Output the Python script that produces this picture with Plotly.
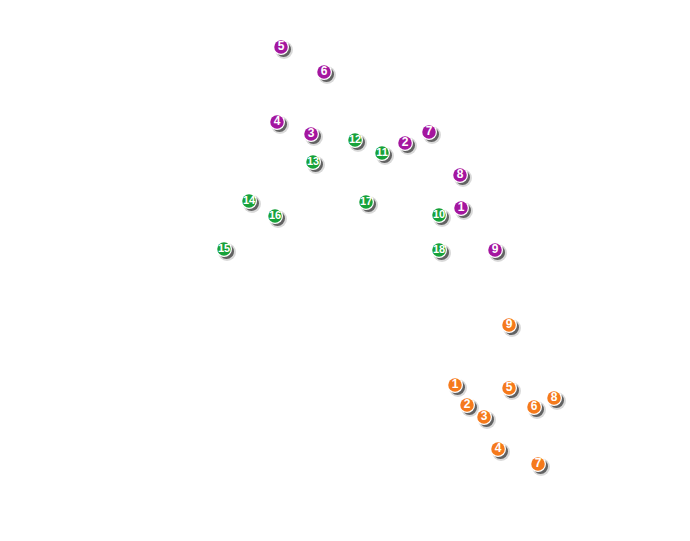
import plotly.graph_objects as go

# Point positions (pixel-like coordinates, y downward)
purple_labels = ["1", "2", "3", "4", "5", "6", "7", "8", "9"]
purple_x = [461, 405, 311, 277, 281, 324, 429, 460, 495]
purple_y = [208, 143, 134, 122, 47, 72, 132, 175, 250]

green_labels = ["10", "11", "12", "13", "14", "15", "16", "17", "18"]
green_x = [439, 382, 355, 313, 249, 224, 275, 366, 439]
green_y = [215, 153, 140, 162, 201, 249, 216, 202, 250]

orange_labels = ["1", "2", "3", "4", "5", "6", "7", "8", "9"]
orange_x = [455, 467, 484, 498, 509, 534, 538, 554, 509]
orange_y = [385, 405, 417, 449, 388, 407, 464, 398, 325]

series = [
    (purple_labels, purple_x, purple_y, "#a4169f"),
    (green_labels, green_x, green_y, "#17a23a"),
    (orange_labels, orange_x, orange_y, "#f57a1c"),
]

fig = go.Figure()
for labels, xs, ys, color in series:
    # soft shadow
    fig.add_trace(go.Scatter(x=[v + 3 for v in xs], y=[v + 3 for v in ys], mode="markers",
                             marker=dict(size=18, color="rgba(0,0,0,0.15)", line=dict(width=0)),
                             hoverinfo="skip", showlegend=False))
    fig.add_trace(go.Scatter(x=[v + 2.5 for v in xs], y=[v + 2.5 for v in ys], mode="markers",
                             marker=dict(size=15, color="rgba(0,0,0,0.55)", line=dict(width=0)),
                             hoverinfo="skip", showlegend=False))
    # white ring
    fig.add_trace(go.Scatter(x=xs, y=ys, mode="markers",
                             marker=dict(size=16, color="white", line=dict(width=0)),
                             hoverinfo="skip", showlegend=False))
    # coloured disc with number
    fig.add_trace(go.Scatter(x=xs, y=ys, mode="markers+text", text=labels,
                             textposition="middle center",
                             textfont=dict(color="white", size=[12 if len(t) == 1 else 11 for t in labels],
                                           family="Liberation Sans Narrow, Liberation Sans, Arial", weight="bold"),
                             marker=dict(size=13.5, color=color, line=dict(width=0)),
                             showlegend=False))

fig.update_layout(
    width=690, height=541,
    margin=dict(l=0, r=0, t=0, b=0),
    paper_bgcolor="white", plot_bgcolor="white",
    xaxis=dict(range=[8, 698], visible=False, fixedrange=True),
    yaxis=dict(range=[549, 8], visible=False, fixedrange=True),
)

fig.write_html("out.html")
